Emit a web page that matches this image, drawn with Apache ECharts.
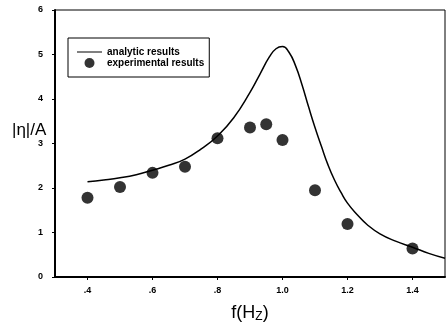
<!DOCTYPE html>
<html>
<head>
<meta charset="utf-8">
<script src="https://cdn.jsdelivr.net/npm/echarts@6/dist/echarts.min.js"></script>
<style>
  html, body { margin: 0; padding: 0; background: #fff; }
  #chart { width: 447px; height: 331px; }
</style>
</head>
<body>
<div id="chart"></div>
<script>
// analytic curve
const analyticX = [0.40, 0.45, 0.50, 0.55, 0.60, 0.65, 0.70, 0.75, 0.80, 0.85, 0.90, 0.93, 0.96, 0.98, 1.00, 1.02, 1.04, 1.06, 1.08, 1.10, 1.12, 1.14, 1.16, 1.18, 1.20, 1.23, 1.26, 1.30, 1.35, 1.40, 1.45, 1.50];
const analyticY = [2.14, 2.18, 2.23, 2.30, 2.40, 2.51, 2.65, 2.88, 3.17, 3.58, 4.15, 4.55, 4.95, 5.13, 5.18, 5.05, 4.75, 4.32, 3.83, 3.36, 2.93, 2.52, 2.18, 1.90, 1.66, 1.40, 1.18, 0.97, 0.80, 0.67, 0.53, 0.42];

// experimental points
const expX = [0.40, 0.50, 0.60, 0.70, 0.80, 0.90, 0.95, 1.00, 1.10, 1.20, 1.40];
const expY = [1.78, 2.02, 2.34, 2.48, 3.12, 3.36, 3.43, 3.08, 1.95, 1.19, 0.64];

const xTicks = [0.4, 0.6, 0.8, 1.0, 1.2, 1.4];
const xTickLabels = [".4", ".6", ".8", "1.0", "1.2", "1.4"];

const chart = echarts.init(document.getElementById("chart"));

const tickFont = {
  fontFamily: "Liberation Sans",
  fontWeight: "bold",
  fontSize: 9,
  color: "#000",
};

chart.setOption({
  animation: false,
  grid: {
    left: 55,
    top: 10,
    right: 2,
    bottom: 54,
    show: true,
    borderColor: "#000",
    borderWidth: 1,
  },
  graphic: [
    {
      type: "text",
      left: 12,
      top: 122,
      style: {
        text: "|η|/A",
        fontFamily: "Liberation Sans",
        fontSize: 17,
        fill: "#000",
      },
    },
  ],
  legend: {
    left: 68,
    top: 38,
    orient: "vertical",
    borderColor: "#000",
    borderWidth: 1,
    padding: [9, 5, 9, 9],
    itemGap: 1,
    itemWidth: 25,
    itemHeight: 10,
    textStyle: { ...tickFont, fontSize: 10, lineHeight: 10 },
    data: [
      { name: "analytic results", icon: "path://M0,0 L25,0 L25,1 L0,1 Z" },
      { name: "experimental results", icon: "circle" },
    ],
  },
  xAxis: {
    type: "value",
    min: 0.3,
    max: 1.5,
    name: "f(H{sub|Z})",
    nameLocation: "middle",
    nameGap: 26,
    nameTextStyle: {
      fontFamily: "Liberation Sans",
      fontSize: 18,
      color: "#000",
      rich: {
        sub: {
          fontFamily: "Liberation Sans",
          fontSize: 12,
          color: "#000",
          verticalAlign: "bottom",
          padding: [8, 0, 0, 0],
        },
      },
    },
    axisLine: { lineStyle: { color: "#000", width: 2 } },
    axisTick: {
      customValues: xTicks,
      length: 3,
      lineStyle: { color: "#000", width: 1 },
    },
    axisLabel: {
      customValues: xTicks,
      margin: 9,
      ...tickFont,
      formatter: (v) => {
        const i = xTicks.findIndex((t) => Math.abs(t - v) < 1e-6);
        return i >= 0 ? xTickLabels[i] : "";
      },
    },
    splitLine: { show: false },
  },
  yAxis: {
    type: "value",
    min: 0,
    max: 6,
    interval: 1,
    axisLine: { lineStyle: { color: "#000", width: 2 } },
    axisTick: { length: 3, lineStyle: { color: "#000", width: 1 } },
    axisLabel: { margin: 12, ...tickFont },
    splitLine: { show: false },
  },
  series: [
    {
      name: "analytic results",
      type: "line",
      smooth: 0.5,
      symbol: "none",
      lineStyle: { color: "#000", width: 1.5 },
      itemStyle: { color: "#000" },
      data: analyticX.map((x, i) => [x, analyticY[i]]),
    },
    {
      name: "experimental results",
      type: "scatter",
      symbol: "circle",
      symbolSize: 12,
      itemStyle: { color: "#000" },
      data: expX.map((x, i) => [x, expY[i]]),
    },
  ],
});
</script>
</body>
</html>
